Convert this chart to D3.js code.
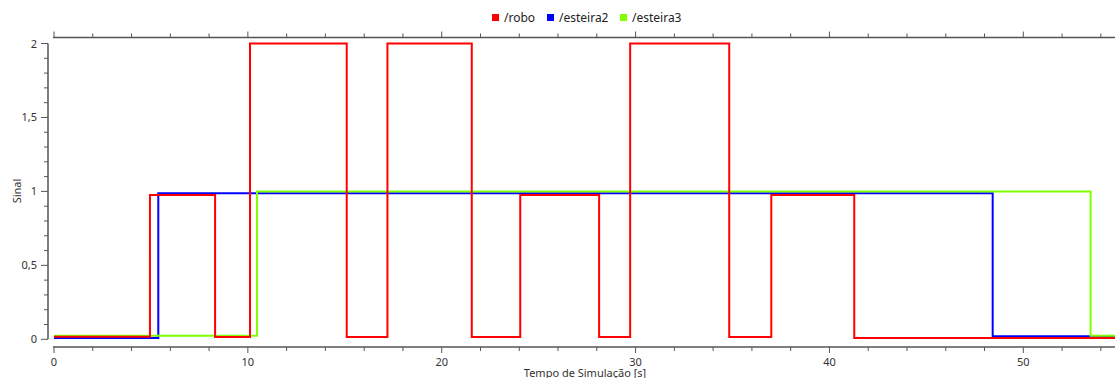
<!DOCTYPE html>
<html lang="pt">
<head>
  <meta charset="UTF-8">
  <title>Sinal</title>
  <script src="https://d3js.org/d3.v7.min.js"></script>
  <style>
    body { margin: 0; background: #fff; }
    text { font-family: "Noto Sans", "DejaVu Sans", sans-serif; fill: #333; }
    .axis path, .axis line { stroke: #555; }
  </style>
</head>
<body>
<div class="canvas"></div>
<script>
  // série /robo : instantes de mudança e valor a partir de cada instante
  const roboT = [0, 4.95, 8.31, 10.11, 15.1, 17.2, 21.55, 24.05, 28.12, 29.72, 34.83, 37.0, 41.28, 54.73];
  const roboV = [0.018, 0.975, 0.016, 2, 0.016, 2, 0.016, 0.975, 0.016, 2, 0.016, 0.975, 0.008, 0.008];
  // /esteira2
  const est2T = [0, 5.38, 48.42, 54.73];
  const est2V = [0.009, 0.988, 0.02, 0.02];
  // /esteira3
  const est3T = [0, 10.47, 53.47, 54.73];
  const est3V = [0.024, 1.0, 0.024, 0.024];

  const seriesNames = ["/robo", "/esteira2", "/esteira3"];
  const seriesColors = ["#ff0000", "#0000ff", "#7fff00"];
  const yTickLabels = ["0", "0,5", "1", "1,5", "2"];
  const yTickValues = [0, 0.5, 1, 1.5, 2];
  const xTickValues = [0, 10, 20, 30, 40, 50];

  const W = 1115, H = 378;
  const svg = d3.select('.canvas').append('svg')
    .attr('width', W).attr('height', H);

  const x = d3.scaleLinear().domain([0, 54.73]).range([54, 1115]);
  const y = d3.scaleLinear().domain([0, 2]).range([339.3, 43.5]);

  const topY = 37.5, bottomY = 347, axisX = 48;

  // eixo de cima (só traços)
  const xMinor = d3.range(0, 55, 2);
  function drawXAxis(yPos, dir) {
    const g = svg.append('g').attr('class', 'axis');
    g.append('line').attr('x1', 53).attr('x2', W).attr('y1', yPos).attr('y2', yPos)
      .attr('stroke-width', 1.5);
    g.selectAll('.tk').data(xMinor).enter().append('line')
      .attr('x1', d => x(d)).attr('x2', d => x(d))
      .attr('y1', yPos)
      .attr('y2', d => yPos + dir * (d % 10 === 0 ? 6 : 4));
    return g;
  }
  drawXAxis(topY, -1);
  const gb = drawXAxis(bottomY, 1);
  gb.selectAll('text').data(xTickValues).enter().append('text')
    .attr('x', d => x(d)).attr('y', 366)
    .attr('text-anchor', 'middle').attr('font-size', 11)
    .text(d => d);

  // eixo y
  const gy = svg.append('g').attr('class', 'axis');
  gy.append('line').attr('x1', axisX).attr('x2', axisX)
    .attr('y1', y(2)).attr('y2', y(0)).attr('stroke-width', 1.5);
  gy.selectAll('.tk').data(d3.range(0, 21).map(i => i / 10)).enter().append('line')
    .attr('y1', d => y(d)).attr('y2', d => y(d))
    .attr('x1', axisX)
    .attr('x2', (d, i) => axisX - (i % 5 === 0 ? 7 : 4));
  gy.selectAll('text').data(yTickValues).enter().append('text')
    .attr('x', 37).attr('y', d => y(d) + 4)
    .attr('text-anchor', 'end').attr('font-size', 11)
    .text((d, i) => yTickLabels[i]);

  svg.append('text').attr('transform', 'translate(21,191) rotate(-90)')
    .attr('text-anchor', 'middle').attr('font-size', 11).text('Sinal');
  svg.append('text').attr('x', 585).attr('y', 377)
    .attr('text-anchor', 'middle').attr('font-size', 11).text('Tempo de Simulação [s]');

  // linhas em degrau
  svg.append('clipPath').attr('id', 'clip').append('rect')
    .attr('x', 53).attr('y', topY).attr('width', W - 53).attr('height', bottomY - topY);
  const line = d3.line().x(d => x(d[0])).y(d => y(d[1])).curve(d3.curveStepAfter);
  const series = [
    { T: est2T, V: est2V, c: seriesColors[1] },
    { T: est3T, V: est3V, c: seriesColors[2] },
    { T: roboT, V: roboV, c: seriesColors[0] }
  ];
  const gl = svg.append('g').attr('clip-path', 'url(#clip)');
  series.forEach(s => {
    gl.append('path')
      .datum(s.T.map((t, i) => [t, s.V[i]]))
      .attr('d', line)
      .attr('fill', 'none').attr('stroke', s.c).attr('stroke-width', 2);
  });

  // legenda
  const legX = [492, 547, 620];
  const gLeg = svg.append('g');
  seriesNames.forEach((n, i) => {
    gLeg.append('rect').attr('x', legX[i]).attr('y', 14).attr('width', 7).attr('height', 7)
      .attr('fill', seriesColors[i]);
    gLeg.append('text').attr('x', legX[i] + 12).attr('y', 22)
      .attr('font-size', 12).style('fill', '#222').text(n);
  });
</script>
</body>
</html>
